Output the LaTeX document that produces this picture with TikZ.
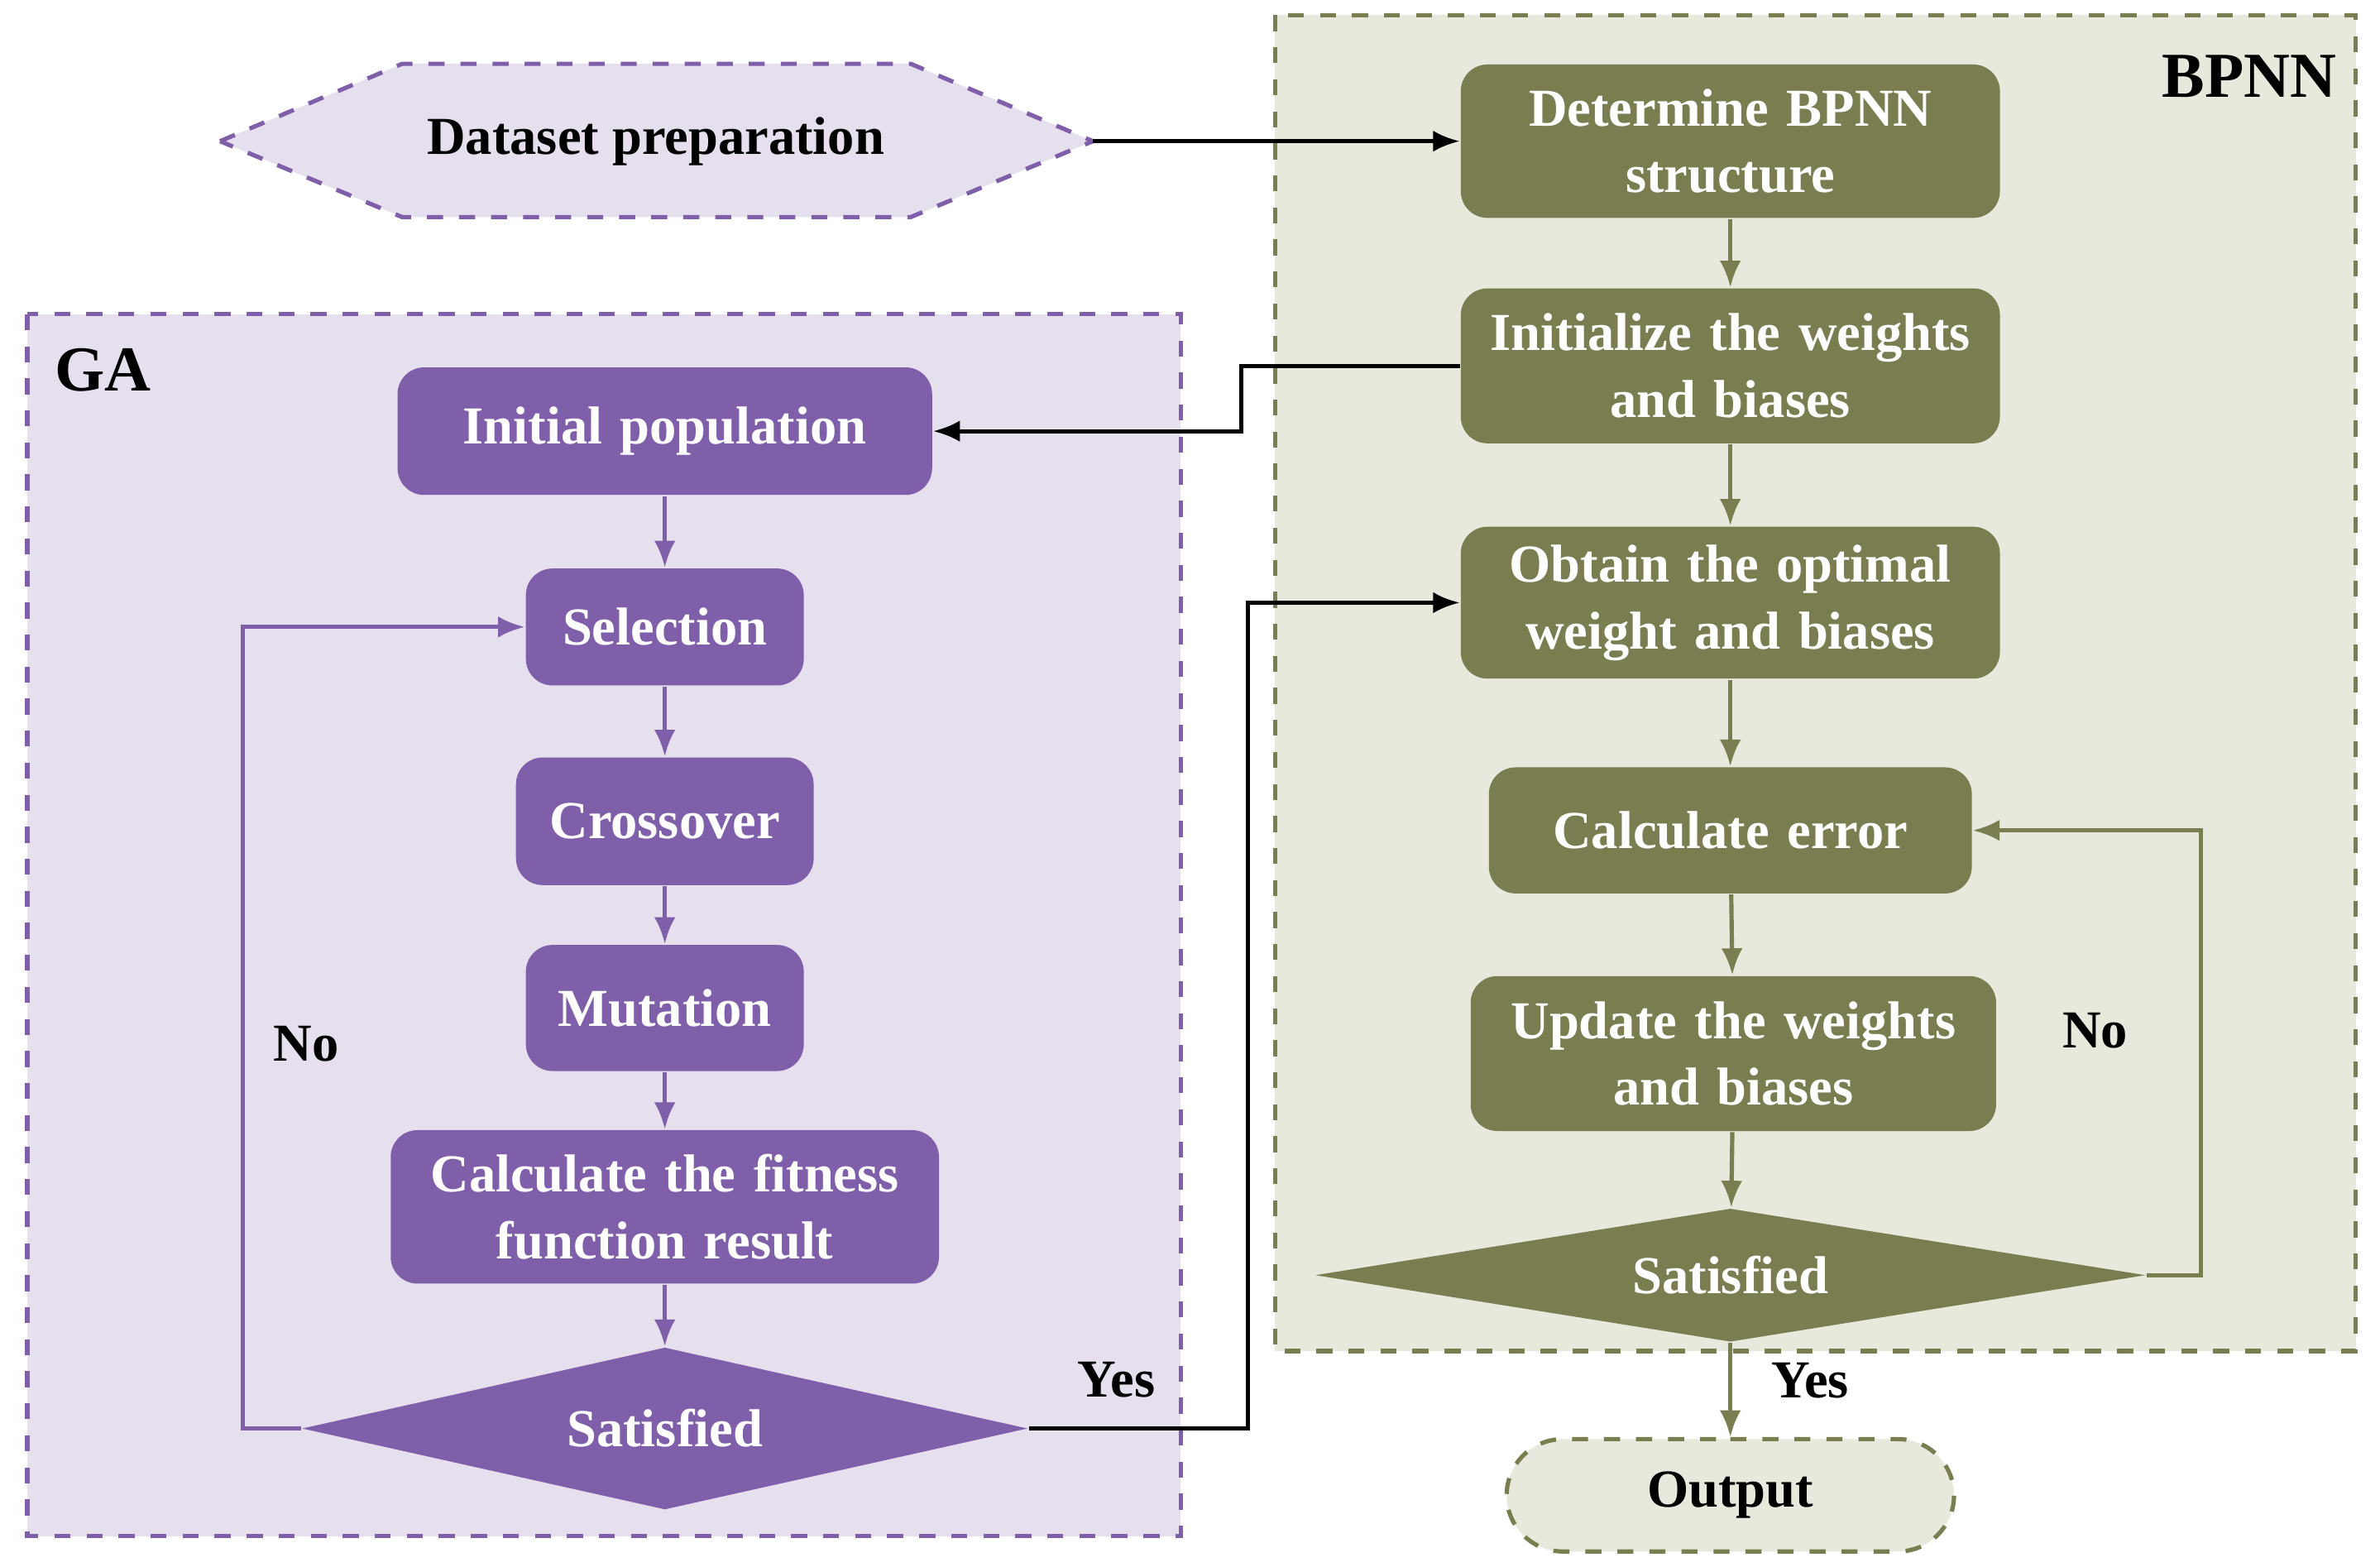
\documentclass[tikz,border=0pt]{standalone}
\usepackage{fontspec}
\setmainfont{Liberation Serif}
\usetikzlibrary{shapes.geometric,shapes.misc,arrows.meta}
\definecolor{olive}{HTML}{7A7D4F}
\definecolor{purp}{HTML}{7F5FAA}
\definecolor{lav}{HTML}{E6DFEE}
\definecolor{beige}{HTML}{E8E8DD}
\begin{document}
\begin{tikzpicture}[x=0.01cm,y=-0.01cm,font=\fontsize{10}{12.5}\selectfont\bfseries,
  >={Latex[length=5pt,width=4pt]},
  gbox/.style={rectangle,rounded corners=5pt,fill=purp,text=white,align=center,inner sep=0pt},
  bbox/.style={rectangle,rounded corners=5pt,fill=olive,text=white,align=center,inner sep=0pt},
  garr/.style={->,draw=purp,thick},
  barr/.style={->,draw=olive,thick}]
\useasboundingbox (0,0) rectangle (1568,1032);
% containers
\draw[dashed,purp,fill=lav,thick] (18,207) rectangle (778,1012);
\draw[dashed,olive,fill=beige,thick] (840,10) rectangle (1552,890);
\node (bpnn) at (1482,50) {\fontsize{12}{14}\selectfont BPNN};
\node (ga) at (68,244) {\fontsize{12}{14}\selectfont GA};
% input
\draw[dashed,purp,thick,fill=lav] (145,93) -- (265,42) -- (600,42) -- (720,93) -- (600,143) -- (265,143) -- cycle;
\node (dataset) at (432,93) {Dataset preparation};
\coordinate (dataE) at (720,93);
% BPNN side
\node (det) [bbox,text width=3.55cm,minimum height=1.01cm] at (1140,93) {Determine BPNN\\structure};
\node (init) [bbox,text width=3.55cm,minimum height=1.02cm] at (1140,241) {Initialize the weights\\and biases};
\node (opt) [bbox,text width=3.55cm,minimum height=1.0cm] at (1140,397) {Obtain the optimal\\weight and biases};
\node (err) [bbox,text width=3.18cm,minimum height=0.83cm] at (1140,547) {Calculate error};
\node (upd) [bbox,text width=3.46cm,minimum height=1.02cm] at (1142,694) {Update the weights\\and biases};
\node (bsat) [diamond,fill=olive,text=white,aspect=6.2,inner sep=0pt,minimum width=5.47cm,minimum height=0.88cm] at (1140,840) {Satisfied};
\node (out) [rounded rectangle,draw=olive,dashed,thick,fill=beige,minimum width=3.18cm,minimum height=0.74cm] at (1140,985) {Output};
% GA side
\node (pop) [gbox,text width=3.52cm,minimum height=0.84cm] at (438,284) {Initial population};
\node (sel) [gbox,text width=1.83cm,minimum height=0.77cm] at (438,413) {Selection};
\node (cro) [gbox,text width=1.96cm,minimum height=0.84cm] at (438,541) {Crossover};
\node (mut) [gbox,text width=1.83cm,minimum height=0.83cm] at (438,664) {Mutation};
\node (fit) [gbox,text width=3.61cm,minimum height=1.01cm] at (438,795) {Calculate the fitness\\function result};
\node (gsat) [diamond,fill=purp,text=white,aspect=4.5,inner sep=0pt,minimum width=4.78cm,minimum height=1.07cm] at (438,941) {Satisfied};
% connectors
\draw[->,thick] (dataE) -- (det.west);
\draw[barr] (det) -- (init);
\draw[barr] (init) -- (opt);
\draw[barr] (opt) -- (err);
\draw[barr] (err) -- (upd);
\draw[barr] (upd) -- (bsat);
\draw[barr] (bsat.south) -- (out.north) node[pos=0.4,right=4pt,black] {Yes};
\draw[barr] (bsat.east) -- (1450,840) -- (1450,547) node[pos=0.55,left=10pt,black] {No} -- (err.east);
\draw[->,thick] (init.west) -- (818,241) -- (818,284) -- (pop.east);
\draw[garr] (pop) -- (sel);
\draw[garr] (sel) -- (cro);
\draw[garr] (cro) -- (mut);
\draw[garr] (mut) -- (fit);
\draw[garr] (fit) -- (gsat);
\draw[garr] (gsat.west) -- (160,941) -- (160,413) node[pos=0.48,right=2pt,black] {No} -- (sel.west);
\draw[->,thick] (gsat.east) -- (822,941) node[pos=0.4,above=2pt] {Yes} -- (822,397) -- (opt.west);
\end{tikzpicture}
\end{document}
